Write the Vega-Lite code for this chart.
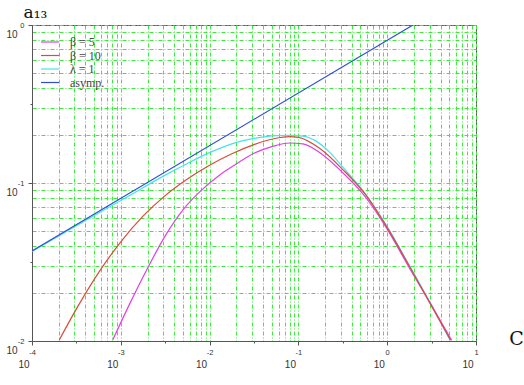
{
  "$schema": "https://vega.github.io/schema/vega-lite/v6.json",
  "width": 444,
  "height": 316,
  "autosize": {"type": "none"},
  "padding": {"left": 32, "top": 25, "right": 48, "bottom": 44},
  "background": "white",
  "config": {
    "view": {"stroke": "#555", "strokeWidth": 1},
    "axis": {"domainColor": "#555", "tickColor": "#555", "labelColor": "#333", "labelFont": "Liberation Sans"}
  },
  "data": {
    "values": [
      {"s": "λ = 1", "C": 0.0001, "a": 0.0368},
      {"s": "λ = 1", "C": 0.0003162, "a": 0.0537},
      {"s": "λ = 1", "C": 0.001, "a": 0.0774},
      {"s": "λ = 1", "C": 0.003162, "a": 0.1122},
      {"s": "λ = 1", "C": 0.005623, "a": 0.133},
      {"s": "λ = 1", "C": 0.01, "a": 0.1556},
      {"s": "λ = 1", "C": 0.01778, "a": 0.177},
      {"s": "λ = 1", "C": 0.03162, "a": 0.1914},
      {"s": "λ = 1", "C": 0.05623, "a": 0.1995},
      {"s": "λ = 1", "C": 0.07943, "a": 0.2004},
      {"s": "λ = 1", "C": 0.1122, "a": 0.1982},
      {"s": "λ = 1", "C": 0.1585, "a": 0.1841},
      {"s": "λ = 1", "C": 0.2239, "a": 0.1567},
      {"s": "λ = 1", "C": 0.3162, "a": 0.1259},
      {"s": "λ = 1", "C": 0.5623, "a": 0.0861},
      {"s": "λ = 1", "C": 1, "a": 0.053},
      {"s": "λ = 1", "C": 1.778, "a": 0.0301},
      {"s": "λ = 1", "C": 3.162, "a": 0.0168},
      {"s": "λ = 1", "C": 5.105, "a": 0.0101},
      {"s": "β = 5", "C": 0.000811, "a": 0.01014},
      {"s": "β = 5", "C": 0.001259, "a": 0.01718},
      {"s": "β = 5", "C": 0.001995, "a": 0.02877},
      {"s": "β = 5", "C": 0.003162, "a": 0.04624},
      {"s": "β = 5", "C": 0.005012, "a": 0.06761},
      {"s": "β = 5", "C": 0.007943, "a": 0.08913},
      {"s": "β = 5", "C": 0.01259, "a": 0.1109},
      {"s": "β = 5", "C": 0.01995, "a": 0.1318},
      {"s": "β = 5", "C": 0.03162, "a": 0.1542},
      {"s": "β = 5", "C": 0.05012, "a": 0.1698},
      {"s": "β = 5", "C": 0.07943, "a": 0.1791},
      {"s": "β = 5", "C": 0.1122, "a": 0.177},
      {"s": "β = 5", "C": 0.1778, "a": 0.1542},
      {"s": "β = 5", "C": 0.3162, "a": 0.1161},
      {"s": "β = 5", "C": 0.5623, "a": 0.0822},
      {"s": "β = 5", "C": 1, "a": 0.0511},
      {"s": "β = 5", "C": 1.778, "a": 0.029},
      {"s": "β = 5", "C": 3.162, "a": 0.0168},
      {"s": "β = 5", "C": 5.32, "a": 0.0101},
      {"s": "β = 10", "C": 0.0002028, "a": 0.01014},
      {"s": "β = 10", "C": 0.0003162, "a": 0.01596},
      {"s": "β = 10", "C": 0.0005623, "a": 0.0271},
      {"s": "β = 10", "C": 0.001, "a": 0.04246},
      {"s": "β = 10", "C": 0.001778, "a": 0.0617},
      {"s": "β = 10", "C": 0.003162, "a": 0.0832},
      {"s": "β = 10", "C": 0.005623, "a": 0.1059},
      {"s": "β = 10", "C": 0.01, "a": 0.1294},
      {"s": "β = 10", "C": 0.01778, "a": 0.1531},
      {"s": "β = 10", "C": 0.03162, "a": 0.175},
      {"s": "β = 10", "C": 0.05623, "a": 0.1919},
      {"s": "β = 10", "C": 0.07943, "a": 0.1963},
      {"s": "β = 10", "C": 0.1, "a": 0.1945},
      {"s": "β = 10", "C": 0.1778, "a": 0.1641},
      {"s": "β = 10", "C": 0.3162, "a": 0.1216},
      {"s": "β = 10", "C": 0.5623, "a": 0.0853},
      {"s": "β = 10", "C": 1, "a": 0.0522},
      {"s": "β = 10", "C": 1.778, "a": 0.0297},
      {"s": "β = 10", "C": 3.162, "a": 0.0166},
      {"s": "β = 10", "C": 5.188, "a": 0.0101},
      {"s": "asymp.", "C": 0.0001, "a": 0.0371},
      {"s": "asymp.", "C": 1.953, "a": 1.0}
    ]
  },
  "layer": [
    {
      "mark": {"type": "line", "strokeWidth": 1.2, "interpolate": "monotone", "clip": true},
      "encoding": {
        "x": {
          "field": "C", "type": "quantitative",
          "scale": {"type": "log", "domain": [0.0001, 10]},
          "axis": {
            "values": [0.0001,0.0002,0.0003,0.0004,0.0005,0.0006,0.0007,0.0008,0.0009,0.001,0.002,0.003,0.004,0.005,0.006,0.007,0.008,0.009,0.01,0.02,0.03,0.04,0.05,0.06,0.07,0.08,0.09,0.1,0.2,0.3,0.4,0.5,0.6,0.7,0.8,0.9,1,2,3,4,5,6,7,8,9,10,0.000316228,0.00316228,0.0316228,0.316228,3.16228],
            "labelExpr": "abs(log(datum.value)/LN10 - round(log(datum.value)/LN10)) < 0.01 ? '' + round(log(datum.value)/LN10) : ''",
            "labelFontSize": 7.5, "labelPadding": 3, "labelFlush": false, "labelOverlap": false,
            "grid": true, "gridColor": "#3ee83e", "gridDash": [4, 2, 1, 2], "gridWidth": 1,
            "gridOpacity": {"condition": {"test": "abs(log(datum.value)/LN10 - floor(log(datum.value)/LN10) - 0.5) < 0.01", "value": 0}, "value": 1},
            "tickSize": {"condition": {"test": "abs(log(datum.value)/LN10 - round(log(datum.value)/LN10)) < 0.01", "value": 4}, "value": 2},
            "tickOpacity": {"condition": {"test": "abs(log(datum.value)/LN10 - round(log(datum.value)/LN10)) >= 0.01 && abs(log(datum.value)/LN10 - floor(log(datum.value)/LN10) - 0.5) >= 0.01", "value": 0}, "value": 1},
            "title": "C", "titleX": 484, "titleY": -3, "titleAlign": "center", "titleBaseline": "middle",
            "titleFont": "DejaVu Serif", "titleFontSize": 19, "titleFontWeight": "normal", "titleColor": "#111"
          }
        },
        "y": {
          "field": "a", "type": "quantitative",
          "scale": {"type": "log", "domain": [0.01, 1]},
          "axis": {
            "values": [0.01,0.02,0.03,0.04,0.05,0.06,0.07,0.08,0.09,0.1,0.2,0.3,0.4,0.5,0.6,0.7,0.8,0.9,1,0.0316228,0.316228],
            "labelExpr": "abs(log(datum.value)/LN10 - round(log(datum.value)/LN10)) < 0.01 ? '' + round(log(datum.value)/LN10) : ''",
            "labelFontSize": 7.5, "labelPadding": 4, "labelBaseline": "middle", "labelFlush": false, "labelOverlap": false,
            "grid": true, "gridColor": "#3ee83e", "gridDash": [4, 2, 1, 2], "gridWidth": 1,
            "gridOpacity": {"condition": {"test": "abs(log(datum.value)/LN10 - floor(log(datum.value)/LN10) - 0.5) < 0.01", "value": 0}, "value": 1},
            "tickSize": {"condition": {"test": "abs(log(datum.value)/LN10 - round(log(datum.value)/LN10)) < 0.01", "value": 4}, "value": 2},
            "tickOpacity": {"condition": {"test": "abs(log(datum.value)/LN10 - round(log(datum.value)/LN10)) >= 0.01 && abs(log(datum.value)/LN10 - floor(log(datum.value)/LN10) - 0.5) >= 0.01", "value": 0}, "value": 1},
            "title": "a₁₃", "titleAngle": 0, "titleX": -9, "titleY": -8, "titleAlign": "left", "titleBaseline": "alphabetic",
            "titleFont": "DejaVu Serif", "titleFontSize": 17, "titleFontWeight": "normal", "titleColor": "#111"
          }
        },
        "color": {
          "field": "s", "type": "nominal",
          "scale": {"domain": ["β = 5", "β = 10", "λ = 1", "asymp."], "range": ["#e040e0", "#d84c38", "#44e4ec", "#2d50d0"]},
          "legend": {
            "orient": "none", "legendX": 11, "legendY": 10, "title": null,
            "symbolType": "M-1.5,0H1.5", "symbolSize": 144, "symbolStrokeWidth": 1.2,
            "labelFont": "Liberation Serif", "labelFontSize": 12, "labelColor": "#444",
            "rowPadding": 0.5, "padding": 0, "labelOffset": 13
          }
        }
      }
    },
    {
      "mark": {"type": "line", "opacity": 0},
      "encoding": {
        "x": {
          "field": "C", "type": "quantitative",
          "axis": {
            "orient": "bottom", "values": [0.0001, 0.001, 0.01, 0.1, 1, 10], "labelExpr": "'10'",
            "ticks": false, "domain": false, "grid": false, "labelFontSize": 10, "labelOffset": -8.5, "labelPadding": 18,
            "labelFlush": false, "labelOverlap": false, "title": null
          }
        },
        "y": {
          "field": "a", "type": "quantitative",
          "axis": {
            "orient": "left", "values": [0.01, 0.1, 1], "labelExpr": "'10'",
            "ticks": false, "domain": false, "grid": false, "labelFontSize": 10, "labelOffset": 9, "labelPadding": 15,
            "labelBaseline": "middle", "labelFlush": false, "labelOverlap": false, "title": null
          }
        },
        "detail": {"field": "s"}
      }
    }
  ],
  "resolve": {"axis": {"x": "independent", "y": "independent"}}
}
